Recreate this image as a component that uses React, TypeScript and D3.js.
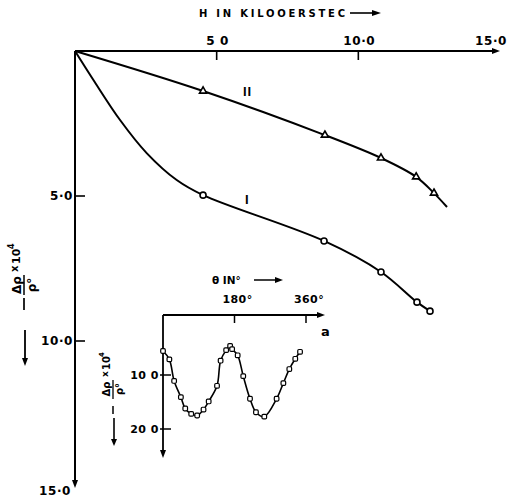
import React from 'react';
import * as d3 from 'd3';

// main chart: H (kOe) vs -Δρ/ρ0 x 10^4
const curveIMarkers: [number, number][] = [
  [4.52, 4.97], [8.79, 6.55], [10.8, 7.62], [12.07, 8.66], [12.53, 8.97],
];
// unmarked trace of curve I between origin and first point
const curveITrace: [number, number][] = [
  [0, 0], [0.65, 1.0], [1.59, 2.38], [2.53, 3.52], [3.59, 4.45],
];
const curveIIMarkers: [number, number][] = [
  [4.52, 1.38], [8.82, 2.9], [10.8, 3.69], [12.04, 4.34], [12.67, 4.9],
];
const curveIIEnd: [number, number][] = [[13.13, 5.38]];

const hTicks = [5, 10];
const hTickLabels = ['5 0', '10·0'];
const rhoTicks = [5, 10];
const rhoTickLabels = ['5·0', '10·0'];

// inset (a): θ in degrees vs -Δρ/ρ0 x 10^4
const thetaValues = [0, 16, 28, 45, 56, 71, 86, 102, 115, 136, 145, 159, 169, 174, 188, 202, 219, 234, 255, 286, 303, 318, 333, 345];
const insetRho = [5.56, 7.1, 11.1, 14.1, 16.2, 17.2, 17.5, 16.4, 14.9, 12.0, 7.35, 5.4, 4.6, 5.2, 6.35, 10.2, 14.4, 16.9, 17.7, 14.4, 11.5, 8.9, 7.0, 5.7];
const thetaTicks = [180, 360];
const thetaTickLabels = ['180°', '360°'];
const insetRhoTicks = [10, 20];
const insetRhoTickLabels = ['10 0', '20 0'];

const W = 508;
const H = 499;
const FONT = '"DejaVu Sans", sans-serif';

const x = d3.scaleLinear().domain([0, 15]).range([75, 500]);
const y = d3.scaleLinear().domain([0, 15]).range([51, 486]);

const xi = d3.scaleLinear().domain([0, 360]).range([163, 306]);
const yi = d3.scaleLinear().domain([10, 20]).range([375, 429]);
const insetAxisY = 315;
const insetAxisX = xi(0);

const mainLine = d3.line<[number, number]>()
  .x(d => x(d[0]))
  .y(d => y(d[1]))
  .curve(d3.curveCatmullRom.alpha(0.5));

const insetLine = d3.line<number>()
  .x((d, i) => xi(thetaValues[i]))
  .y(d => yi(d))
  .curve(d3.curveCatmullRom.alpha(0.5));

const Arrow = ({ x1, y1, x2, y2, w = 1.8, head = 8 }: any) => {
  const a = Math.atan2(y2 - y1, x2 - x1);
  const hx = x2 - head * Math.cos(a);
  const hy = y2 - head * Math.sin(a);
  const px = Math.sin(a) * 3;
  const py = -Math.cos(a) * 3;
  return (
    <g>
      <line x1={x1} y1={y1} x2={hx} y2={hy} stroke="#000" strokeWidth={w} />
      <path d={`M${x2},${y2}L${hx + px},${hy + py}L${hx - px},${hy - py}Z`} fill="#000" />
    </g>
  );
};

const App = () => {
  const curveI = [...curveITrace, ...curveIMarkers];
  const curveII: [number, number][] = [[0, 0], ...curveIIMarkers, ...curveIIEnd];
  const tri = d3.symbol().type(d3.symbolTriangle).size(22)();

  return (
    <svg width={W} height={H} style={{ position: 'absolute', left: 0, top: 0, background: '#fff' }}
      fontFamily={FONT} fontWeight="bold" fill="#000">
      <rect width={W} height={H} fill="#fff" />

      {/* top title */}
      <text x={199} y={17} fontSize={10} textLength={146} lengthAdjust="spacing">H  IN KILOOERSTEC</text>
      <Arrow x1={350} y1={13} x2={381} y2={13} w={1.6} head={9} />

      {/* main axes */}
      <Arrow x1={x(0)} y1={y(0)} x2={x(15)} y2={y(0)} w={2} />
      <Arrow x1={x(0)} y1={y(0)} x2={x(0)} y2={y(15) + 2} w={2} />
      {hTicks.map((t, i) => (
        <g key={t}>
          <line x1={x(t)} x2={x(t)} y1={y(0)} y2={y(0) + 9} stroke="#000" strokeWidth={1.6} />
          <text x={x(t) + 1} y={45} fontSize={12} letterSpacing={0.6} textAnchor="middle">{hTickLabels[i]}</text>
        </g>
      ))}
      <text x={507} y={45} fontSize={12} letterSpacing={0.6} textAnchor="end">15·0</text>
      {rhoTicks.map((t, i) => (
        <g key={t}>
          <line x1={x(0)} x2={x(0) + 10} y1={y(t)} y2={y(t)} stroke="#000" strokeWidth={1.6} />
          <text x={73} y={y(t) + 4} fontSize={12} letterSpacing={0.6} textAnchor="end">{rhoTickLabels[i]}</text>
        </g>
      ))}
      <text x={71} y={495} fontSize={12} letterSpacing={0.6} textAnchor="end">15·0</text>

      {/* main y label, rotated */}
      <g transform="translate(24,0) rotate(-90)" fontSize={12}>
        <text x={-285} y={-3} textAnchor="middle">Δρ</text>
        <line x1={-295} x2={-275} y1={0} y2={0} stroke="#000" strokeWidth={1.5} />
        <text x={-285} y={12} textAnchor="middle">ρ°</text>
        <text x={-272} y={-6} fontSize={10}>x</text>
        <text x={-264} y={-4} fontSize={11}>10</text>
        <text x={-249} y={-10} fontSize={8}>4</text>
      </g>
      <line x1={24} x2={24} y1={298} y2={310} stroke="#000" strokeWidth={1.7} />
      <Arrow x1={25} y1={330} x2={25} y2={366} w={1.8} />

      {/* curves */}
      <path d={mainLine(curveI) || ''} fill="none" stroke="#000" strokeWidth={2} />
      <path d={mainLine(curveII) || ''} fill="none" stroke="#000" strokeWidth={2} />
      {curveIMarkers.map((d, i) => (
        <circle key={i} cx={x(d[0])} cy={y(d[1])} r={3} fill="#fff" stroke="#000" strokeWidth={1.6} />
      ))}
      {curveIIMarkers.map((d, i) => (
        <path key={i} d={tri || ''} transform={`translate(${x(d[0])},${y(d[1])})`} fill="#fff" stroke="#000" strokeWidth={1.6} />
      ))}
      <text x={243} y={96} fontSize={13} fontFamily='"Liberation Sans", sans-serif' letterSpacing={1} fill="#000">II</text>
      <text x={245} y={204} fontSize={13} fontFamily='"Liberation Sans", sans-serif' fill="#000">I</text>

      {/* inset */}
      <text x={212} y={284} fontSize={10.5}>θ  IN°</text>
      <Arrow x1={254} y1={280} x2={283} y2={280} w={1.5} head={8} />
      <Arrow x1={insetAxisX} y1={insetAxisY} x2={325} y2={insetAxisY} w={1.8} />
      <Arrow x1={insetAxisX} y1={insetAxisY} x2={insetAxisX} y2={458} w={1.8} />
      {thetaTicks.map((t, i) => (
        <g key={t}>
          <line x1={xi(t)} x2={xi(t)} y1={insetAxisY} y2={insetAxisY + 8} stroke="#000" strokeWidth={1.5} />
          <text x={xi(t) + 3} y={303} fontSize={11} letterSpacing={0.4} textAnchor="middle">{thetaTickLabels[i]}</text>
        </g>
      ))}
      <text x={321} y={336} fontSize={13}>a</text>
      {insetRhoTicks.map((t, i) => (
        <g key={t}>
          <line x1={insetAxisX - 3} x2={insetAxisX + 8} y1={yi(t)} y2={yi(t)} stroke="#000" strokeWidth={1.5} />
          <text x={159} y={yi(t) + 4} fontSize={11} letterSpacing={0.5} textAnchor="end">{insetRhoTickLabels[i]}</text>
        </g>
      ))}
      <g transform="translate(113,0) rotate(-90)" fontSize={10}>
        <text x={-389} y={-3} textAnchor="middle">Δρ</text>
        <line x1={-399} x2={-380} y1={0} y2={0} stroke="#000" strokeWidth={1.3} />
        <text x={-389} y={10} textAnchor="middle">ρ°</text>
        <text x={-377} y={-5} fontSize={9}>x</text>
        <text x={-370} y={-3} fontSize={10}>10</text>
        <text x={-357} y={-9} fontSize={7}>4</text>
      </g>
      <line x1={113} x2={113} y1={406} y2={414} stroke="#000" strokeWidth={1.5} />
      <Arrow x1={114} y1={418} x2={114} y2={446} w={1.6} head={7} />

      <path d={insetLine(insetRho) || ''} fill="none" stroke="#000" strokeWidth={1.6} />
      {insetRho.map((v, i) => (
        <rect key={i} x={xi(thetaValues[i]) - 2.3} y={yi(v) - 2.3} width={4.6} height={4.6} rx={1.2}
          fill="#fff" stroke="#000" strokeWidth={1.2} />
      ))}
    </svg>
  );
};

export default App;
